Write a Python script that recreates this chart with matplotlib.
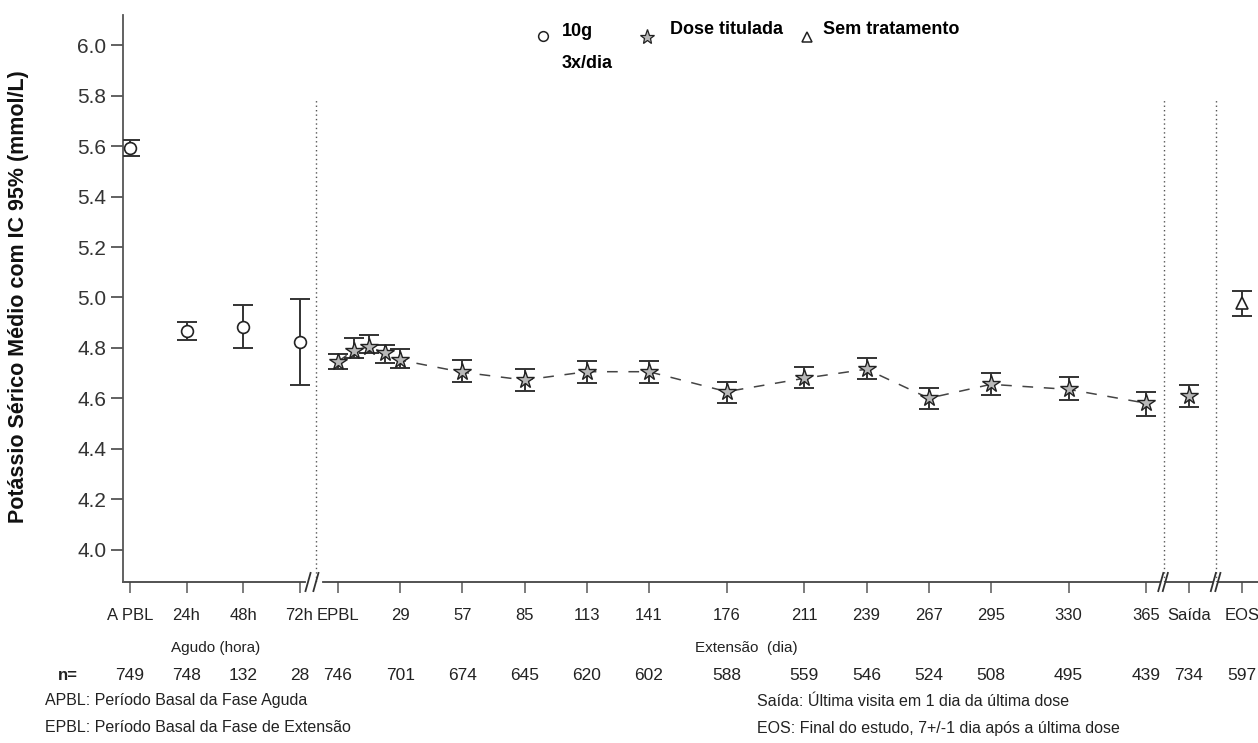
import numpy as np
import matplotlib
matplotlib.use("Agg")
from matplotlib import pyplot as plt
from matplotlib.lines import Line2D
from matplotlib.transforms import blended_transform_factory

plt.rcParams['font.family'] = ['Liberation Sans', 'DejaVu Sans']

# --- data ---
acute_labels = ['A PBL', '24h', '48h', '72h']
acute_hours = [0, 24, 48, 72]
acute_mean = [5.592, 4.869, 4.884, 4.825]
acute_lo = [5.560, 4.832, 4.800, 4.652]
acute_hi = [5.624, 4.903, 4.970, 4.994]
acute_n = [749, 748, 132, 28]

ext_days = [1, 8, 15, 22, 29, 57, 85, 113, 141, 176, 211, 239, 267, 295, 330, 365]
ext_mean = [4.746, 4.790, 4.805, 4.780, 4.752, 4.704, 4.673, 4.706, 4.706, 4.627,
            4.680, 4.716, 4.601, 4.656, 4.636, 4.581]
ext_lo = [4.717, 4.760, 4.780, 4.740, 4.722, 4.667, 4.630, 4.663, 4.663, 4.583,
          4.640, 4.676, 4.558, 4.614, 4.594, 4.531]
ext_hi = [4.776, 4.840, 4.850, 4.810, 4.796, 4.752, 4.716, 4.750, 4.750, 4.667,
          4.726, 4.759, 4.643, 4.700, 4.686, 4.624]
ext_tick_days = [1, 29, 57, 85, 113, 141, 176, 211, 239, 267, 295, 330, 365]
ext_tick_labels = ['EPBL', '29', '57', '85', '113', '141', '176', '211', '239',
                   '267', '295', '330', '365']
ext_n = [746, 701, 674, 645, 620, 602, 588, 559, 546, 524, 508, 495, 439]

saida_mean, saida_lo, saida_hi, saida_n = 4.610, 4.568, 4.653, 734
eos_mean, eos_lo, eos_hi, eos_n = 4.977, 4.927, 5.027, 597

# --- x scale: acute in hours, extension in days, then two single slots ---
def ax_acute(h):
    return np.asarray(h, dtype=float) / 24.0

def ax_ext(d):
    return 3.68 + (np.asarray(d, dtype=float) - 1) * 0.0393

X_SAIDA = 18.74
X_EOS = 19.68

W, H = 1258, 743
fig = plt.figure(figsize=(W / 100, H / 100), dpi=100)
ax = fig.add_axes([123 / W, (H - 582) / H, 1 - 123 / W, 567 / H])
ax.set_xlim(-0.124, 19.96)
ax.set_ylim(3.873, 6.119)

ecol = '#333333'
xa = ax_acute(acute_hours)
xe = ax_ext(ext_days)
am = np.array(acute_mean)
em = np.array(ext_mean)

ax.plot(xe, em, color='#444444', lw=1.1, dashes=(7, 7), zorder=2)

ax.errorbar(xa, am, yerr=[am - np.array(acute_lo), np.array(acute_hi) - am],
            fmt='none', ecolor=ecol, elinewidth=1.4, capsize=7, capthick=1.4, zorder=3)
ax.plot(xa, am, 'o', ms=8.5, mfc='white', mec='#222222', mew=1.2, zorder=4)

ax.errorbar(xe, em, yerr=[em - np.array(ext_lo), np.array(ext_hi) - em],
            fmt='none', ecolor=ecol, elinewidth=1.4, capsize=7, capthick=1.4, zorder=3)
ax.plot(xe, em, '*', ms=13, mfc='#b8b8b8', mec='#222222', mew=1.0, zorder=4)

ax.errorbar([X_SAIDA], [saida_mean], yerr=[[saida_mean - saida_lo], [saida_hi - saida_mean]],
            fmt='none', ecolor=ecol, elinewidth=1.4, capsize=7, capthick=1.4, zorder=3)
ax.plot([X_SAIDA], [saida_mean], '*', ms=13, mfc='#b8b8b8', mec='#222222', mew=1.0, zorder=4)

ax.errorbar([X_EOS], [eos_mean], yerr=[[eos_mean - eos_lo], [eos_hi - eos_mean]],
            fmt='none', ecolor=ecol, elinewidth=1.4, capsize=7, capthick=1.4, zorder=3)
ax.plot([X_EOS], [eos_mean], '^', ms=9, mfc='white', mec='#222222', mew=1.2, zorder=4)

# dotted separators
for xv in [3.29, 18.30, 19.22]:
    ax.vlines(xv, 3.873, 5.79, colors='#555555', linestyles=(0, (1, 2.2)), lw=1.0, zorder=1)

# axes / spines
for s in ['top', 'right', 'bottom']:
    ax.spines[s].set_visible(False)
ax.spines['left'].set_color('#555555')
ax.spines['left'].set_linewidth(1.3)

trb = blended_transform_factory(ax.transData, ax.transAxes)
segs = [(-0.124, 3.10), (3.42, 18.23), (18.33, 19.16), (19.26, 19.96)]
for a, b in segs:
    ax.plot([a, b], [0, 0], color='#444444', lw=1.3, transform=trb, clip_on=False)
for xb in [3.15, 3.29, 18.24, 18.32, 19.17, 19.25]:
    ax.plot([xb - 0.045, xb + 0.045], [-0.016, 0.016], color='#333333', lw=1.3,
            transform=trb, clip_on=False)

ax.set_yticks(np.arange(4.0, 6.01, 0.2))
ax.set_yticklabels([f'{v:.1f}' for v in np.arange(4.0, 6.01, 0.2)])
ax.tick_params(axis='y', length=9, width=1.3, color='#555555', labelsize=15,
               labelcolor='#333333', pad=3)

xt = list(xa) + list(ax_ext(ext_tick_days)) + [X_SAIDA, X_EOS]
xl = acute_labels + ext_tick_labels + ['Saída', 'EOS']
ax.set_xticks(xt)
ax.set_xticklabels(xl)
ax.tick_params(axis='x', length=8, width=1.2, color='#666666', labelsize=12,
               labelcolor='#222222', pad=11)

fig.text(19 / W, 1 - 297 / H, 'Potássio Sérico Médio com IC 95% (mmol/L)', rotation=90,
         ha='center', va='center', fontsize=15.5, fontweight='bold', color='#111111')

trf = blended_transform_factory(ax.transData, fig.transFigure)
ax.text(1.52, 1 - 648 / H, 'Agudo (hora)', transform=trf, ha='center', va='center',
        fontsize=11, color='#222222')
ax.text(ax_ext(176) + 0.35, 1 - 648 / H, 'Extensão  (dia)', transform=trf, ha='center',
        va='center', fontsize=11, color='#222222')

ny = 1 - 676 / H
fig.text(68 / W, ny, 'n=', ha='center', va='center', fontsize=12, fontweight='bold',
         color='#222222')
for xv, nv in zip(xt, acute_n + ext_n + [saida_n, eos_n]):
    ax.text(xv, ny, str(nv), transform=trf, ha='center', va='center', fontsize=12.5,
            color='#222222')

fig.text(45 / W, 1 - 701 / H, 'APBL: Período Basal da Fase Aguda', ha='left', va='center',
         fontsize=11.5, color='#222222')
fig.text(45 / W, 1 - 728 / H, 'EPBL: Período Basal da Fase de Extensão', ha='left',
         va='center', fontsize=11.5, color='#222222')
fig.text(757 / W, 1 - 701 / H, 'Saída: Última visita em 1 dia da última dose', ha='left',
         va='center', fontsize=11.5, color='#222222')
fig.text(757 / W, 1 - 728 / H, 'EOS: Final do estudo, 7+/-1 dia após a última dose',
         ha='left', va='center', fontsize=11.5, color='#222222')

# legend drawn by hand
def fx(p):
    return p / W

def fy(p):
    return 1 - p / H

fig.add_artist(Line2D([fx(543)], [fy(36)], marker='o', ms=7, mfc='white', mec='#222222',
                      mew=1.1, transform=fig.transFigure))
fig.text(fx(562), fy(31), '10g', ha='left', va='center', fontsize=13, fontweight='bold')
fig.text(fx(562), fy(63), '3x/dia', ha='left', va='center', fontsize=13, fontweight='bold')
fig.add_artist(Line2D([fx(647)], [fy(37)], marker='*', ms=11, mfc='#b8b8b8', mec='#222222',
                      mew=0.9, transform=fig.transFigure))
fig.text(fx(670), fy(30), 'Dose titulada', ha='left', va='center', fontsize=13,
         fontweight='bold')
fig.add_artist(Line2D([fx(807)], [fy(37)], marker='^', ms=7, mfc='white', mec='#222222',
                      mew=1.1, transform=fig.transFigure))
fig.text(fx(823), fy(30), 'Sem tratamento', ha='left', va='center', fontsize=13,
         fontweight='bold')

fig.savefig('out.png', dpi=100)
